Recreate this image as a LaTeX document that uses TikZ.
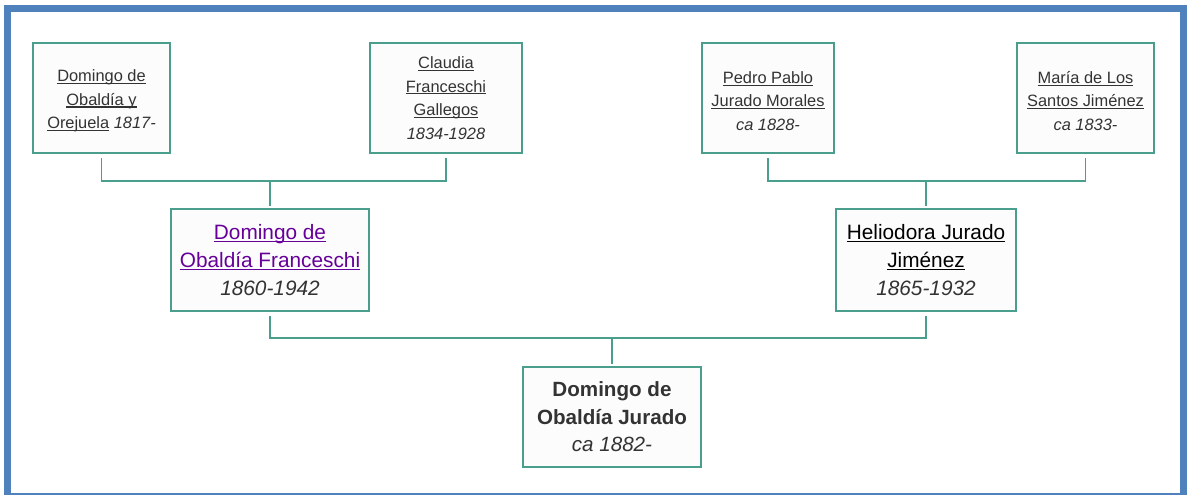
\documentclass[tikz,border=0pt]{standalone}
\usepackage{fontspec}
\setmainfont{Liberation Sans}
\definecolor{frameblue}{HTML}{4F81BD}
\definecolor{boxline}{HTML}{4A9E8C}
\definecolor{boxfill}{HTML}{FCFCFC}
\definecolor{txt}{HTML}{333333}
\definecolor{visited}{HTML}{660099}
\newcommand{\ul}[1]{\setbox0\hbox{#1}\rlap{\rule[-2.3pt]{\wd0}{1.1pt}}\box0\relax}
\newcommand{\tstrut}{\rule{0pt}{18pt}}
\tikzset{
  person/.style={draw=boxline, line width=1.6pt, fill=boxfill, align=center, inner sep=0pt, text=txt},
  small/.style={person, font=\fontsize{16.4}{23.5}\selectfont},
  mid/.style={person, font=\fontsize{20.8}{28}\selectfont},
  link/.style={draw=boxline, line width=1.6pt},
}
\begin{document}
\begin{tikzpicture}[x=1pt,y=-1pt]
\useasboundingbox (0,0) rectangle (1187,495);
\fill[white] (0,0) rectangle (1187,495);
% frame
\fill[frameblue] (4,5) rectangle (1187,12);
\fill[frameblue] (4,5) rectangle (11,495);
\fill[frameblue] (1180,5) rectangle (1187,495);
\fill[frameblue] (4,492.5) rectangle (1187,495);
% top row
\node[small, minimum width=137, minimum height=110] (b1) at (101.5,98)
  {\tstrut\ul{Domingo de}\\ \ul{Obaldía y}\\ \ul{Orejuela} \textit{1817-}};
\node[small, minimum width=152, minimum height=110] (b2) at (446,98)
  {\ul{Claudia}\\ \ul{Franceschi}\\ \ul{Gallegos}\\ \textit{1834-1928}};
\node[small, minimum width=132, minimum height=110] (b3) at (768,98)
  {\tstrut\ul{Pedro Pablo}\\ \ul{Jurado Morales}\\ \textit{ca 1828-}};
\node[small, minimum width=137, minimum height=110] (b4) at (1085.5,98)
  {\tstrut\ul{María de Los}\\ \ul{Santos Jiménez}\\ \textit{ca 1833-}};
% middle row
\node[mid, minimum width=198, minimum height=102] (b5) at (270,260)
  {\textcolor{visited}{\ul{Domingo de}}\\ \textcolor{visited}{\ul{Obaldía Franceschi}}\\ \textit{1860-1942}};
\node[mid, minimum width=180, minimum height=102] (b6) at (926,260)
  {\textcolor{black}{\ul{Heliodora Jurado}}\\ \textcolor{black}{\ul{Jiménez}}\\ \textit{1865-1932}};
% bottom
\node[mid, minimum width=178, minimum height=100, font=\fontsize{20.6}{27.5}\selectfont\bfseries] (b7) at (612,417)
  {Domingo de\\ Obaldía Jurado\\ \textmd{\textit{ca 1882-}}};
% connectors
\coordinate (j1) at (270,181);
\coordinate (j2) at (926,181);
\coordinate (j3) at (612,338);
\draw[link] ([yshift=-4]b1.south) |- (j1) -| ([yshift=-4]b2.south);
\draw[link] (j1) -- ([yshift=2]b5.north);
\draw[link] ([yshift=-4]b3.south) |- (j2) -| ([yshift=-4]b4.south);
\draw[link] (j2) -- ([yshift=2]b6.north);
\draw[link] ([yshift=-4]b5.south) |- (j3) -| ([yshift=-4]b6.south);
\draw[link] (j3) -- ([yshift=2]b7.north);
\end{tikzpicture}
\end{document}
